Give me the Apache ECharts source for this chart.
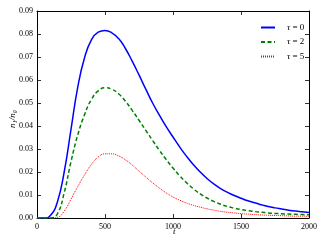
<!DOCTYPE html>
<html><head><meta charset="utf-8">
<script src="https://cdn.jsdelivr.net/npm/echarts@6/dist/echarts.min.js"></script>
<style>html,body{margin:0;padding:0;background:#fff}#c{width:325px;height:245px}</style>
</head><body><div id="c"></div>
<script>
const tValues = [0,50,100,150,200,250,300,350,400,450,500,550,600,650,700,750,800,850,900,950,1000,1050,1100,1150,1200,1250,1300,1350,1400,1450,1500,1550,1600,1650,1700,1750,1800,1850,1900,1950,2000];
const tau0 = [0,0,0.0012,0.0070,0.0200,0.0385,0.0570,0.0698,0.0774,0.0808,0.0815,0.0805,0.0780,0.0737,0.0682,0.0622,0.0560,0.0500,0.0447,0.0397,0.0352,0.0308,0.0268,0.0232,0.0200,0.0172,0.0148,0.0128,0.0112,0.0098,0.0086,0.0075,0.0066,0.0058,0.0050,0.0044,0.0039,0.0034,0.0030,0.0027,0.0024];
const tau2 = [0,0,0,0.0018,0.0110,0.0245,0.0362,0.0450,0.0515,0.0553,0.0566,0.0560,0.0540,0.0508,0.0468,0.0425,0.0381,0.0337,0.0294,0.0254,0.0217,0.0183,0.0153,0.0127,0.0105,0.0087,0.0072,0.0060,0.0050,0.0043,0.0037,0.0032,0.0028,0.0025,0.0022,0.0020,0.0018,0.0017,0.0016,0.0015,0.0014];
const tau5 = [0,0,0,0.0003,0.0030,0.0082,0.0137,0.0188,0.0233,0.0265,0.0279,0.0279,0.0270,0.0253,0.0230,0.0204,0.0178,0.0153,0.0130,0.0109,0.0091,0.0077,0.0065,0.0055,0.0047,0.0040,0.0034,0.0029,0.0025,0.0022,0.0019,0.0017,0.0015,0.0013,0.0012,0.0011,0.0010,0.0009,0.0008,0.0008,0.0007];
const seriesNames = ['τ = 0','τ = 2','τ = 5'];
const xTickLabels = ['0','500','1000','1500','2000'];
const yTickLabels = ['0.00','0.01','0.02','0.03','0.04','0.05','0.06','0.07','0.08','0.09'];
const xLabel = 't';
const yLabel = 'n₁/n₀';

const FONT = 'Liberation Serif';
const pairs = arr => tValues.map((t, i) => [t, arr[i]]);
const axisCommon = {
  axisLine: {show: true, onZero: false, lineStyle: {color: '#000', width: 1}},
  axisTick: {show: true, inside: true, length: 4, lineStyle: {color: '#000', width: 0.8}},
  splitLine: {show: false}
};
const xAx = (pos, show) => Object.assign({
  type: 'value', min: 0, max: 2000, interval: 500, position: pos,
  axisLabel: {show: show, fontFamily: FONT, fontSize: 8, color: '#000', margin: 5,
    formatter: v => xTickLabels[Math.round(v / 500)]}
}, axisCommon);
const yAx = (pos, show) => Object.assign({
  type: 'value', min: 0, max: 0.09, interval: 0.01, position: pos,
  axisLabel: {show: show, fontFamily: FONT, fontSize: 8, color: '#000', margin: 4,
    formatter: v => yTickLabels[Math.round(v / 0.01)]}
}, axisCommon);

const chart = echarts.init(document.getElementById('c'), null, {renderer: 'canvas'});
chart.setOption({
  animation: false,
  backgroundColor: '#fff',
  grid: {left: 37, right: 16, top: 11, bottom: 27},
  xAxis: [xAx('bottom', true), xAx('top', false)],
  yAxis: [yAx('left', true), yAx('right', false)],
  legend: {
    orient: 'vertical', left: 255, top: 18, itemWidth: 14, itemHeight: 8, itemGap: 5.5,
    itemStyle: {opacity: 0, color: 'rgba(0,0,0,0)', borderColor: 'rgba(0,0,0,0)', borderWidth: 0},
    textStyle: {fontFamily: FONT, fontSize: 9, color: '#000', padding: [0, 0, 0, 7],
      rich: {i: {fontFamily: FONT, fontSize: 9, fontStyle: 'italic', color: '#000'}}},
    formatter: n => '{i|τ}' + n.slice(1),
    data: seriesNames
  },
  series: [
    {name: seriesNames[0], type: 'line', data: pairs(tau0), symbol: 'none', smooth: 0.5,
      lineStyle: {color: '#0000ff', width: 1.5}, itemStyle: {color: '#0000ff'}},
    {name: seriesNames[1], type: 'line', data: pairs(tau2), symbol: 'none', smooth: 0.5,
      lineStyle: {color: '#008000', width: 1.5, type: [4, 2.5]}, itemStyle: {color: '#008000'}},
    {name: seriesNames[2], type: 'line', data: pairs(tau5), symbol: 'none', smooth: 0.5,
      lineStyle: {color: '#ff0000', width: 1, type: [1, 1]}, itemStyle: {color: '#ff0000'}}
  ],
  graphic: [
    {type: 'text', left: 173, top: 227, style: {text: xLabel, font: 'italic 9px ' + FONT, fill: '#000'}},
    {type: 'text', x: 8, y: 128, rotation: Math.PI / 2,
      style: {text: yLabel, font: 'italic 9px ' + FONT, fill: '#000'}}
  ]
});
</script></body></html>
